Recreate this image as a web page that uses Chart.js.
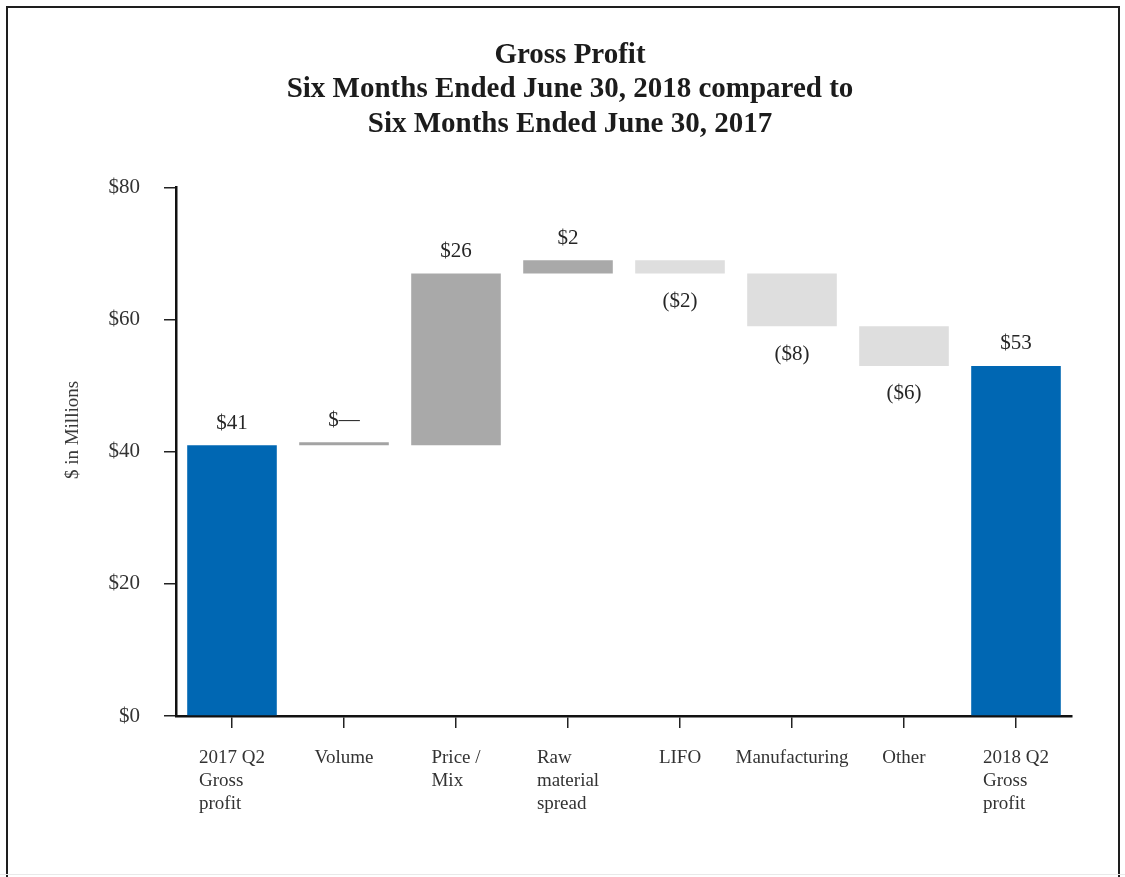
<!DOCTYPE html>
<html>
<head>
<meta charset="utf-8">
<script src="https://cdn.jsdelivr.net/npm/chart.js@4.4.1/dist/chart.umd.min.js"></script>
<style>
html, body { margin: 0; padding: 0; background: #fff; }
#wrap { position: relative; width: 1125px; height: 877px; overflow: hidden; background: #fff; }
#frame { position: absolute; left: 6px; top: 6px; width: 1114px; height: 890px; border: 2px solid #1e1e1e; box-sizing: border-box; }
#bottomline { position: absolute; left: 0; top: 874px; width: 1125px; height: 1px; background: #e9e9e9; }
canvas { position: absolute; left: 0; top: 0; }
</style>
</head>
<body>
<div id="wrap">
  <div id="frame"></div>
  <div id="bottomline"></div>
  <canvas id="chart" width="1125" height="877"></canvas>
</div>
<script>
// ---- Data ----
const titleLines = ['Gross Profit', 'Six Months Ended June 30, 2018 compared to', 'Six Months Ended June 30, 2017'];
const yAxisTitle = '$ in Millions';
const categories = [
  ['2017 Q2', 'Gross', 'profit'],
  ['Volume'],
  ['Price /', 'Mix'],
  ['Raw', 'material', 'spread'],
  ['LIFO'],
  ['Manufacturing'],
  ['Other'],
  ['2018 Q2', 'Gross', 'profit']
];
const startTotal = 41;                 // 2017 Q2 gross profit
const changes = [0, 26, 2, -2, -8, -6]; // Volume, Price/Mix, Raw material, LIFO, Manufacturing, Other
const endTotal = 53;                   // 2018 Q2 gross profit
const yTickLabels = ['$0', '$20', '$40', '$60', '$80'];

// ---- Colours ----
const COLOR_TOTAL = '#0067b3';
const COLOR_UP = '#a9a9a9';
const COLOR_DOWN = '#dedede';
const COLOR_ZERO = '#a3a3a3';
const SERIF = '"Liberation Serif", "Times New Roman", serif';

// ---- Build waterfall floating bars from the data ----
const floating = [];
const kinds = [];
const valueLabels = [];
floating.push([0, startTotal]); kinds.push('total'); valueLabels.push('$' + startTotal);
let running = startTotal;
changes.forEach(d => {
  floating.push([running, running + d]);
  running += d;
  if (d > 0) { kinds.push('up'); valueLabels.push('$' + d); }
  else if (d < 0) { kinds.push('down'); valueLabels.push('($' + Math.abs(d) + ')'); }
  else { kinds.push('zero'); valueLabels.push('$\u2014'); }
});
floating.push([0, endTotal]); kinds.push('total'); valueLabels.push('$' + endTotal);

const barColors = kinds.map(k => k === 'total' ? COLOR_TOTAL : k === 'up' ? COLOR_UP : k === 'down' ? COLOR_DOWN : COLOR_ZERO);

// ---- Plugins: value labels, category labels, y-axis title ----
const waterfallText = {
  id: 'waterfallText',
  afterDatasetsDraw(chart) {
    const ctx = chart.ctx;
    const meta = chart.getDatasetMeta(0);
    ctx.save();
    ctx.font = '21px ' + SERIF;
    ctx.fillStyle = '#262626';
    ctx.textAlign = 'center';
    ctx.textBaseline = 'middle';
    meta.data.forEach((bar, i) => {
      const p = bar.getProps(['x', 'y', 'base'], true);
      const top = Math.min(p.y, p.base);
      const bottom = Math.max(p.y, p.base);
      const yPos = kinds[i] === 'down' ? bottom + 28 : top - 22;
      ctx.fillText(valueLabels[i], p.x, yPos);
    });
    ctx.restore();
  },
  afterDraw(chart) {
    const ctx = chart.ctx;
    const xs = chart.scales.x;
    ctx.save();
    ctx.font = '19px ' + SERIF;
    ctx.fillStyle = '#333333';
    ctx.textAlign = 'left';
    ctx.textBaseline = 'alphabetic';
    categories.forEach((lines, i) => {
      const cx = xs.getPixelForValue(i);
      const w = Math.max(...lines.map(l => ctx.measureText(l).width));
      lines.forEach((l, j) => ctx.fillText(l, cx - w / 2, xs.top + 47 + j * 23));
    });
    // y axis title
    ctx.translate(73, 430);
    ctx.rotate(-Math.PI / 2);
    ctx.textAlign = 'center';
    ctx.textBaseline = 'middle';
    ctx.fillStyle = '#3a3a3a';
    ctx.fillText(yAxisTitle, 0, 0);
    ctx.restore();
  }
};

new Chart(document.getElementById('chart'), {
  type: 'bar',
  data: {
    labels: categories.map(c => c.join(' ')),
    datasets: [{
      data: floating,
      backgroundColor: barColors,
      borderWidth: 0,
      minBarLength: 3,
      barPercentage: 0.8,
      categoryPercentage: 1.0
    }]
  },
  options: {
    responsive: false,
    animation: false,
    devicePixelRatio: 1,
    layout: { padding: { left: 68, right: 53, top: 0, bottom: 0 } },
    plugins: {
      legend: { display: false },
      tooltip: { enabled: false },
      title: {
        display: true,
        text: titleLines,
        color: '#1c1c1c',
        font: { family: SERIF, size: 29, weight: 'bold', lineHeight: 1.19 },
        padding: { top: 38, bottom: 46 }
      }
    },
    scales: {
      x: {
        offset: true,
        grid: { display: true, offset: false, drawOnChartArea: false, drawTicks: true, tickLength: 12, color: '#222', lineWidth: 1.5 },
        border: { display: true, color: '#111', width: 2.5 },
        ticks: { display: false },
        afterFit(scale) { scale.height = 161; }
      },
      y: {
        min: 0,
        max: 80,
        grid: { display: true, drawOnChartArea: false, drawTicks: true, tickLength: 12, color: '#222', lineWidth: 1.5 },
        border: { display: true, color: '#111', width: 2.5 },
        ticks: {
          stepSize: 20,
          padding: 24,
          color: '#333333',
          font: { family: SERIF, size: 21 },
          callback: (v, i) => yTickLabels[i]
        },
        afterFit(scale) { scale.width = 108; }
      }
    }
  },
  plugins: [waterfallText]
});
</script>
</body>
</html>
